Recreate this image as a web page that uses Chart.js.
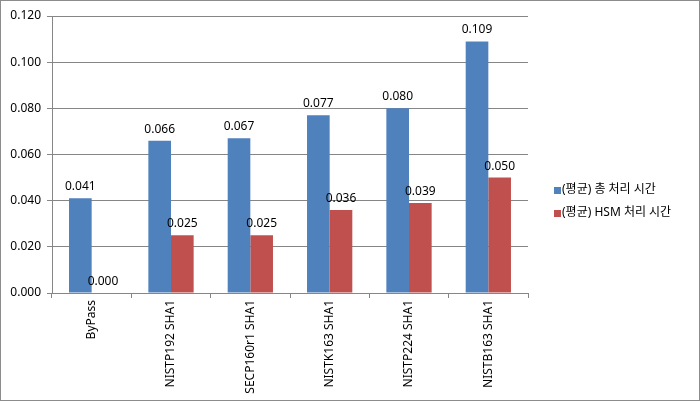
<!DOCTYPE html>
<html>
<head>
<meta charset="utf-8">
<script src="https://cdn.jsdelivr.net/npm/chart.js@4"></script>
<style>
  html, body { margin: 0; padding: 0; background: #fff; }
  #wrap { width: 700px; height: 401px; position: relative; }
</style>
</head>
<body>
<div id="wrap"><canvas id="timeChart" width="700" height="401"></canvas></div>
<script>
const categories = ["ByPass", "NISTP192 SHA1", "SECP160r1 SHA1", "NISTK163 SHA1", "NISTP224 SHA1", "NISTB163 SHA1"];
const totalTime = [0.041, 0.066, 0.067, 0.077, 0.080, 0.109];
const hsmTime = [0.000, 0.025, 0.025, 0.036, 0.039, 0.050];
const seriesNames = ["(평균) 총 처리 시간", "(평균) HSM 처리 시간"];

const FONT = "'Noto Sans', 'Noto Sans CJK KR', sans-serif";

// white background + thin frame like the Excel chart border
const framePlugin = {
    id: "frame",
    beforeDraw(chart) {
        const c = chart.ctx;
        c.save();
        c.fillStyle = "#fff";
        c.fillRect(0, 0, chart.width, chart.height);
        c.strokeStyle = "#8c8c8c";
        c.lineWidth = 1;
        c.strokeRect(0.5, 0.5, chart.width - 1, chart.height - 1);
        c.restore();
    }
};

// value labels above each bar
const valueLabels = {
    id: "valueLabels",
    afterDatasetsDraw(chart) {
        const c = chart.ctx;
        c.save();
        c.font = "12px " + FONT;
        c.fillStyle = "#000";
        c.textAlign = "center";
        c.textBaseline = "alphabetic";
        chart.data.datasets.forEach((ds, i) => {
            chart.getDatasetMeta(i).data.forEach((bar, j) => {
                c.fillText(ds.data[j].toFixed(3), bar.x, bar.y - 8);
            });
        });
        c.restore();
    }
};

// legend on the right side
const sideLegend = {
    id: "sideLegend",
    afterDraw(chart) {
        const c = chart.ctx;
        c.save();
        c.font = "12px " + FONT;
        c.textBaseline = "middle";
        chart.data.datasets.forEach((ds, i) => {
            const y = 190 + i * 23;
            c.fillStyle = ds.backgroundColor;
            c.fillRect(554, y - 3, 7, 7);
            c.fillStyle = "#000";
            c.fillText(ds.label, 562, y);
        });
        c.restore();
    }
};

new Chart(document.getElementById("timeChart"), {
    type: "bar",
    data: {
        labels: categories,
        datasets: [
            { label: seriesNames[0], data: totalTime, backgroundColor: "#4F81BD" },
            { label: seriesNames[1], data: hsmTime, backgroundColor: "#C0504D" }
        ]
    },
    options: {
        responsive: false,
        animation: false,
        devicePixelRatio: 1,
        layout: { padding: { left: 0, top: 16, right: 172, bottom: 0 } },
        datasets: {
            bar: { categoryPercentage: 0.571, barPercentage: 1.0 }
        },
        scales: {
            x: {
                afterFit: s => { s.height = 108; },
                grid: {
                    offset: true,
                    drawOnChartArea: false,
                    tickLength: 5,
                    color: "#868686"
                },
                border: { color: "#868686" },
                ticks: {
                    minRotation: 90,
                    maxRotation: 90,
                    autoSkip: false,
                    color: "#000",
                    padding: 2,
                    font: { family: FONT, size: 12 }
                }
            },
            y: {
                min: 0,
                max: 0.12,
                afterFit: s => { s.width = 52; },
                ticks: {
                    stepSize: 0.02,
                    color: "#000",
                    padding: 6,
                    font: { family: FONT, size: 12 },
                    callback: v => v.toFixed(3)
                },
                grid: { color: "#868686", tickLength: 5 },
                border: { color: "#868686" }
            }
        },
        plugins: {
            legend: { display: false },
            tooltip: { enabled: false }
        }
    },
    plugins: [framePlugin, valueLabels, sideLegend]
});
</script>
</body>
</html>
